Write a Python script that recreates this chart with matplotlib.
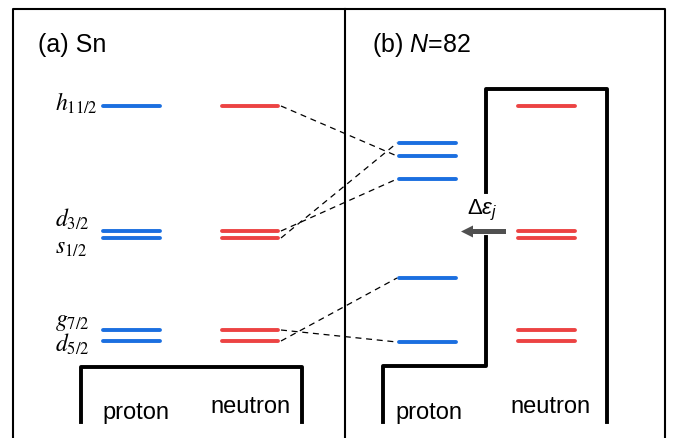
import matplotlib
matplotlib.use("Agg")
import matplotlib.pyplot as plt

plt.rcParams['font.family'] = ['Liberation Sans', 'DejaVu Sans']
plt.rcParams['mathtext.fontset'] = 'custom'
plt.rcParams['mathtext.rm'] = 'Liberation Sans'
plt.rcParams['mathtext.it'] = 'Liberation Sans:italic'
plt.rcParams['lines.scale_dashes'] = False

# 軌道名稱與能階位置 (任意單位, 越大越高)
orbits = ['h11/2', 'd3/2', 's1/2', 'g7/2', 'd5/2']
orbit_tex = [r'$h_{11/2}$', r'$d_{3/2}$', r'$s_{1/2}$', r'$g_{7/2}$', r'$d_{5/2}$']
sn_proton = [332, 207, 200, 108, 97]
sn_neutron = [332, 207, 200, 108, 97]
n82_proton = [282, 259, 295, 96, 160]
n82_neutron = [332, 207, 200, 108, 97]

blue = '#1b6fe0'
red = '#ec4343'

fig = plt.figure(figsize=(6.83, 4.39), dpi=100)
ax = fig.add_axes([0, 0, 1, 1])
ax.set_xlim(0, 683)
ax.set_ylim(0, 439)
ax.axis('off')

# 外框
ax.plot([13, 13, 665, 665], [-5, 429, 429, -5], color='black', lw=1.5)
ax.plot([345, 345], [-5, 429], color='black', lw=1.5)

# 能階
cols = [(sn_proton, 103, 160, blue), (sn_neutron, 222, 278, red),
        (n82_proton, 399, 456, blue), (n82_neutron, 518, 575, red)]
for levels, x0, x1, c in cols:
    for e in levels:
        ax.plot([x0, x1], [e, e], color=c, lw=2.8, solid_capstyle='round')

# 標籤
label_dy = [-4, 5, -15, 5, -10]
for name, e, dy in zip(orbit_tex, sn_proton, label_dy):
    ax.text(55, e + dy, name, fontsize=17, math_fontfamily='stix',
            ha='left', va='baseline')

# 虛線: Sn 中子 -> N=82 質子
for i in range(len(orbits)):
    ax.plot([281, 397], [sn_neutron[i], n82_proton[i]], color='black',
            lw=0.9, dashes=(4.3, 3.4))

# 框線
ax.plot([81, 81, 302, 302], [16, 71, 71, 16], color='black', lw=2.8)
ax.plot([383, 383, 486, 486], [16, 72, 72, 201], color='black', lw=2.8)
ax.plot([486, 486, 607, 607], [246, 349, 349, 16], color='black', lw=2.8)

# 箭頭
ax.arrow(506, 206.5, -45, 0, width=5, head_width=12, head_length=12,
         length_includes_head=True, color='#505050', lw=0)
ax.text(482, 229, r'$\Delta\varepsilon_j$', fontsize=16, ha='center', va='center')

ax.text(38, 394, '(a) Sn', fontsize=18, va='center')
ax.text(372, 394, '(b) $N$=82', fontsize=18, va='center')
for x in (136, 429):
    ax.text(x, 26, 'proton', fontsize=17, ha='center', va='center')
for x in (250, 551):
    ax.text(x, 32, 'neutron', fontsize=17, ha='center', va='center')

fig.savefig('out.png', dpi=100)
